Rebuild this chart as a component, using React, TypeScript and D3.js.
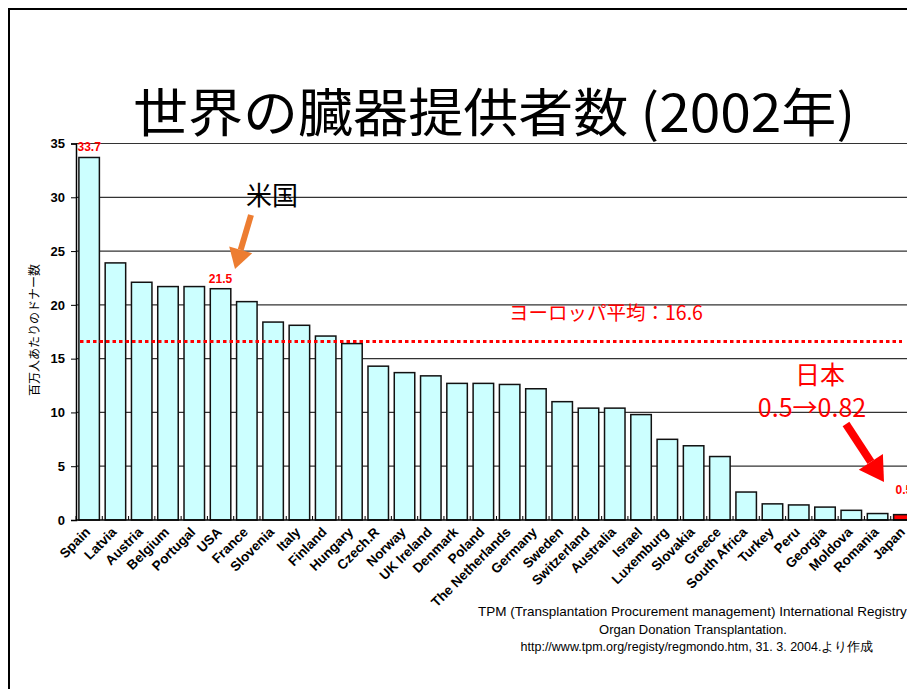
import React, { useEffect, useRef } from 'react';
import * as d3 from 'd3';

const countries = [
  'Spain', 'Latvia', 'Austria', 'Belgium', 'Portugal', 'USA', 'France', 'Slovenia',
  'Italy', 'Finland', 'Hungary', 'Czech.R', 'Norway', 'UK Ireland', 'Denmark', 'Poland',
  'The Netherlands', 'Germany', 'Sweden', 'Switzerland', 'Australia', 'Israel', 'Luxemburg',
  'Slovakia', 'Greece', 'South Africa', 'Turkey', 'Peru', 'Georgia', 'Moldova', 'Romania', 'Japan',
];
const donors = [
  33.7, 23.9, 22.1, 21.7, 21.7, 21.5, 20.3, 18.4,
  18.1, 17.1, 16.4, 14.3, 13.7, 13.4, 12.7, 12.7,
  12.6, 12.2, 11.0, 10.4, 10.4, 9.8, 7.5,
  6.9, 5.9, 2.6, 1.5, 1.4, 1.2, 0.9, 0.6, 0.5,
];
const yTicks = [0, 5, 10, 15, 20, 25, 30, 35];
const europeAverage = 16.6;
const labelled = [
  { country: 'Spain', text: '33.7' },
  { country: 'USA', text: '21.5' },
  { country: 'Japan', text: '0.5' },
];
const sourceLines = [
  'TPM (Transplantation Procurement management) International Registry',
  'Organ Donation Transplantation.',
  'http://www.tpm.org/registy/regmondo.htm, 31. 3. 2004.より作成',
];

const W = 907;
const H = 689;
const sans = '"Liberation Sans", Arial, sans-serif';
const jp = '"Noto Sans CJK JP", sans-serif';

const App = () => {
  const ref = useRef<SVGSVGElement>(null);

  useEffect(() => {
    const svg = d3.select(ref.current);
    svg.selectAll('*').remove();

    // slide frame
    svg.append('rect').attr('x', 9).attr('y', 9).attr('width', W + 20).attr('height', H + 20)
      .attr('fill', 'white').attr('stroke', 'black').attr('stroke-width', 2);

    // title
    svg.append('text')
      .text('世界の臓器提供者数 (2002年)')
      .attr('x', 133).attr('y', 132)
      .attr('textLength', 722).attr('lengthAdjust', 'spacingAndGlyphs')
      .attr('font-family', jp).attr('font-size', 52).attr('fill', 'black');

    const x = d3.scaleBand<string>().domain(countries).range([76, 917]).paddingInner(0.22).paddingOuter(0.11);
    const y = d3.scaleLinear().domain([0, 35]).range([520, 143.5]);

    // gridlines
    svg.append('g').selectAll('line').data(yTicks.filter((t) => t > 0)).enter().append('line')
      .attr('x1', 76).attr('x2', W).attr('y1', (d) => y(d)).attr('y2', (d) => y(d))
      .attr('stroke', '#333').attr('stroke-width', 1.2);

    // y axis
    const yAxis = svg.append('g').attr('transform', 'translate(76,0)')
      .call(d3.axisLeft(y).tickValues(yTicks).tickSize(5).tickPadding(6));
    yAxis.select('.domain').attr('stroke', 'black').attr('stroke-width', 1.5);
    yAxis.selectAll('text').attr('font-family', sans).attr('font-weight', 'bold')
      .attr('font-size', 13).attr('fill', 'black');

    // bars
    svg.append('g').selectAll('rect').data(countries).enter().append('rect')
      .attr('x', (d) => x(d)!)
      .attr('y', (d, i) => y(donors[i]))
      .attr('width', x.bandwidth())
      .attr('height', (d, i) => y(0) - y(donors[i]))
      .attr('fill', (d) => (d === 'Japan' ? '#ff0000' : '#ccffff'))
      .attr('stroke', '#111').attr('stroke-width', 1.5);

    // x axis with small ticks between bars
    const step = x.step();
    svg.append('line').attr('x1', 76).attr('x2', W).attr('y1', y(0)).attr('y2', y(0))
      .attr('stroke', 'black').attr('stroke-width', 1.5);
    svg.append('g').selectAll('line').data(countries).enter().append('line')
      .attr('x1', (d) => x(d)! - (step - x.bandwidth()) / 2)
      .attr('x2', (d) => x(d)! - (step - x.bandwidth()) / 2)
      .attr('y1', y(0)).attr('y2', y(0) - 4)
      .attr('stroke', 'black').attr('stroke-width', 1);

    svg.append('g').selectAll('text').data(countries).enter().append('text')
      .text((d) => d)
      .attr('transform', (d) => `translate(${x(d)! + x.bandwidth() / 2 + 2},${y(0) + 13}) rotate(-45)`)
      .attr('text-anchor', 'end')
      .attr('font-family', sans).attr('font-weight', 'bold').attr('font-size', 13.5).attr('fill', 'black');

    // value labels
    svg.append('g').selectAll('text').data(labelled).enter().append('text')
      .text((d) => d.text)
      .attr('x', (d) => x(d.country)! + x.bandwidth() / 2)
      .attr('y', (d) => (d.country === 'Japan' ? 494 : y(donors[countries.indexOf(d.country)]) - 6))
      .attr('text-anchor', 'middle')
      .attr('font-family', sans).attr('font-weight', 'bold').attr('font-size', 12).attr('fill', 'red');

    // europe average
    svg.append('line')
      .attr('x1', 80).attr('x2', 902).attr('y1', y(europeAverage)).attr('y2', y(europeAverage))
      .attr('stroke', 'red').attr('stroke-width', 3).attr('stroke-dasharray', '3.5 3');
    svg.append('text').text(`ヨーロッパ平均：${europeAverage}`)
      .attr('x', 606).attr('y', 320).attr('text-anchor', 'middle')
      .attr('font-family', jp).attr('font-size', 19.5).attr('fill', 'red');

    // y axis title
    svg.append('text').text('百万人あたりのドナー数')
      .attr('transform', 'translate(39,330) rotate(-90)')
      .attr('text-anchor', 'middle')
      .attr('font-family', jp).attr('font-size', 12).attr('fill', 'black');

    // annotations
    svg.append('text').text('米国')
      .attr('x', 246).attr('y', 205)
      .attr('font-family', jp).attr('font-size', 26).attr('fill', 'black');
    const arrow = (x1: number, y1: number, x2: number, y2: number, color: string, w: number, head: number) => {
      const ang = Math.atan2(y2 - y1, x2 - x1);
      const bx = x2 - head * Math.cos(ang);
      const by = y2 - head * Math.sin(ang);
      svg.append('line').attr('x1', x1).attr('y1', y1).attr('x2', bx).attr('y2', by)
        .attr('stroke', color).attr('stroke-width', w);
      const px = Math.sin(ang) * head * 0.6;
      const py = -Math.cos(ang) * head * 0.6;
      svg.append('path')
        .attr('d', d3.line()([[x2, y2], [bx + px, by + py], [bx - px, by - py]]) + 'Z')
        .attr('fill', color);
    };
    arrow(251, 215, 235, 269, '#ed7d31', 6, 20);

    svg.append('text').text('日本')
      .attr('x', 820).attr('y', 384).attr('text-anchor', 'middle')
      .attr('font-family', jp).attr('font-size', 25).attr('fill', 'red');
    svg.append('text').text('0.5→0.82')
      .attr('x', 812).attr('y', 417).attr('text-anchor', 'middle')
      .attr('font-family', jp).attr('font-size', 25).attr('fill', 'red');
    arrow(846, 424, 884, 482, 'red', 8, 24);

    // source
    const src = svg.append('g').attr('font-family', sans).attr('font-size', 13).attr('fill', 'black');
    src.append('text').text(sourceLines[0]).attr('x', 478).attr('y', 616).attr('font-size', 13.5);
    src.append('text').text(sourceLines[1]).attr('x', 693).attr('y', 634).attr('text-anchor', 'middle');
    src.append('text').text(sourceLines[2]).attr('x', 697).attr('y', 651).attr('text-anchor', 'middle').attr('font-size', 12.5);
  }, []);

  return (
    <svg ref={ref} width={W} height={H} style={{ position: 'absolute', left: 0, top: 0, background: 'white' }} />
  );
};

export default App;
